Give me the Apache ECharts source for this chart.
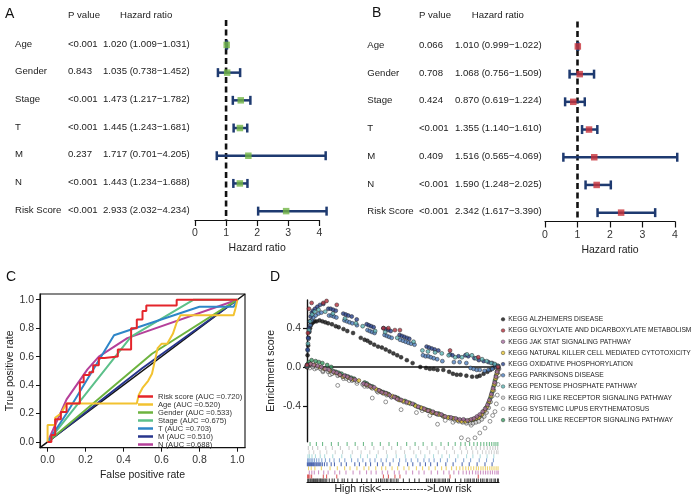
<!DOCTYPE html>
<html><head><meta charset="utf-8">
<script src="https://cdn.jsdelivr.net/npm/echarts@6/dist/echarts.min.js"></script>
<style>html,body{margin:0;padding:0;background:#fff}#c{width:693px;height:496px}</style>
</head><body><div id="c"></div>
<script>
// ---------- DATA ----------
const panelLetters = ['A','B','C','D'];
const tableHeaders = ['P value','Hazard ratio'];
const forestLabels = ['Age','Gender','Stage','T','M','N','Risk Score'];
const uniP  = ['<0.001','0.843','<0.001','<0.001','0.237','<0.001','<0.001'];
const uniHR = [1.020,1.035,1.473,1.445,1.717,1.443,2.933];
const uniLo = [1.009,0.738,1.217,1.243,0.701,1.234,2.032];
const uniHi = [1.031,1.452,1.782,1.681,4.205,1.688,4.234];
const multiP  = ['0.066','0.708','0.424','<0.001','0.409','<0.001','<0.001'];
const multiHR = [1.010,1.068,0.870,1.355,1.516,1.590,2.342];
const multiLo = [0.999,0.756,0.619,1.140,0.565,1.248,1.617];
const multiHi = [1.022,1.509,1.224,1.610,4.069,2.025,3.390];

const rocNames = ['Risk score (AUC =0.720)','Age (AUC =0.520)','Gender (AUC =0.533)','Stage (AUC =0.675)','T (AUC =0.703)','M (AUC =0.510)','N (AUC =0.688)'];
const rocTicks = [0,0.2,0.4,0.6,0.8,1.0];
const rocDiag = [[-0.04,-0.04],[1.04,1.04]];
const rocRisk = [[0,0],[0.02,0],[0.02,0.05],[0.04,0.05],[0.04,0.16],[0.07,0.16],[0.07,0.21],[0.1,0.21],[0.1,0.27],[0.17,0.27],[0.17,0.42],[0.19,0.42],[0.19,0.47],[0.22,0.47],[0.22,0.49],[0.24,0.49],[0.24,0.54],[0.27,0.54],[0.27,0.59],[0.3,0.59],[0.3,0.6],[0.37,0.6],[0.37,0.65],[0.44,0.65],[0.44,0.8],[0.47,0.8],[0.47,0.86],[0.5,0.86],[0.5,0.92],[0.52,0.92],[0.52,0.96],[0.68,0.96],[0.68,1.0],[1.0,1.0]];
const rocAge = [[0,0],[0,0.12],[0.04,0.12],[0.04,0.17],[0.07,0.2],[0.1,0.27],[0.47,0.27],[0.48,0.33],[0.5,0.38],[0.53,0.43],[0.55,0.48],[0.57,0.6],[0.58,0.66],[0.6,0.69],[0.63,0.69],[0.66,0.76],[0.68,0.84],[0.7,0.89],[0.98,0.89],[0.99,0.94],[1,1]];
const rocGender = [[0,0],[0.55,0.62],[1,1]];
const rocStage = [[0,0],[0.44,0.74],[0.77,1.0],[1,1]];
const rocT = [[0,0],[0.1,0.2],[0.35,0.75],[0.8,0.95],[0.98,0.95],[1,1]];
const rocM = [[0,0],[0.5,0.52],[1,1]];
const rocN = [[0,0],[0.1,0.3],[0.21,0.51],[0.27,0.6],[0.42,0.73],[1,1]];
const rocColors = ['#E4252B','#F2C230','#6DB33F','#5CC08A','#2E86C8','#27358C','#B5409A'];

const gseaNames = ['KEGG ALZHEIMERS DISEASE','KEGG GLYOXYLATE AND DICARBOXYLATE METABOLISM','KEGG JAK STAT SIGNALING PATHWAY','KEGG NATURAL KILLER CELL MEDIATED CYTOTOXICITY','KEGG OXIDATIVE PHOSPHORYLATION','KEGG PARKINSONS DISEASE','KEGG PENTOSE PHOSPHATE PATHWAY','KEGG RIG I LIKE RECEPTOR SIGNALING PATHWAY','KEGG SYSTEMIC LUPUS ERYTHEMATOSUS','KEGG TOLL LIKE RECEPTOR SIGNALING PATHWAY'];
const gseaColors = ['#111111','#B5303C','#A86BA0','#E6C431','#27408B','#4F7FBF','#5FB7B7','#D0D0D0','#FFFFFF','#3A9B62'];
const rugColors  = ['#111111','#D23A3A','#C27AB8','#E8C84A','#2A4AA0','#6E95CC','#9FD6D6','#C8C8C8','#BDBDBD','#4DAA6E'];
const esTicks = [-0.4,0,0.4];
const gseaAlz = [[0,0.01],[0.3,0.12],[0.6,0.22],[0.9,0.3],[1.2,0.36],[1.6,0.4],[2,0.43],[2.6,0.45],[3.2,0.46],[4,0.47],[5,0.47],[6.5,0.48],[8,0.47],[9.5,0.46],[11,0.45],[13,0.44],[15,0.42],[16.5,0.41],[19,0.39],[21,0.37],[24,0.35],[28,0.3],[30,0.28],[31.5,0.27],[33,0.25],[35,0.23],[37,0.21],[39,0.2],[41,0.18],[43,0.16],[45,0.14],[47,0.12],[49,0.1],[52,0.07],[55,0.04],[59,0.0],[62,-0.01],[64,-0.02],[66,-0.02],[68,-0.03],[71,-0.03],[74,-0.05],[76,-0.07],[78,-0.08],[80,-0.08],[83,-0.09],[86,-0.1],[88.5,-0.1],[90,-0.09],[92,-0.07],[94,-0.05],[95.5,-0.03],[97,-0.01],[98.8,0.01],[99.6,0.0]];
const gseaGly = [[0,0.02],[0.5,0.35],[1,0.6],[2.4,0.66],[8.5,0.66],[10.2,0.68],[15.5,0.64],[39.8,0.4],[42.4,0.4],[45.8,0.38],[48.4,0.38],[74.5,0.17],[89.2,0.1],[99.5,0.0]];
const gseaJak = [[0,0.0],[0.6,0.02],[1.8,0.03],[3.5,0.02],[5.5,0.01],[7.5,0.0],[9.5,-0.02],[11.5,-0.03],[13.8,-0.05],[15.5,-0.06],[17.2,-0.08],[19.5,-0.09],[21,-0.1],[22.8,-0.12],[25,-0.13],[29.5,-0.17],[31,-0.18],[33,-0.2],[35,-0.21],[37.5,-0.24],[39,-0.26],[41,-0.27],[43,-0.29],[45.5,-0.31],[47,-0.33],[49,-0.34],[52,-0.36],[55,-0.38],[58,-0.41],[61,-0.43],[63,-0.45],[65.5,-0.46],[67.5,-0.48],[70,-0.49],[72,-0.51],[75,-0.52],[77.5,-0.53],[79.5,-0.54],[81.5,-0.54],[83.5,-0.55],[85.5,-0.54],[87,-0.53],[88.5,-0.51],[90,-0.49],[91.5,-0.46],[92.8,-0.43],[94,-0.39],[95,-0.34],[96,-0.28],[96.9,-0.22],[97.7,-0.16],[98.4,-0.1],[99,-0.05],[99.6,-0.01]];
const gseaNk = [[0,0.0],[0.8,0.02],[2,0.03],[4,0.02],[6.5,0.0],[9,-0.02],[12,-0.04],[14.5,-0.06],[17,-0.08],[19,-0.1],[21.5,-0.11],[24,-0.13],[27,-0.14],[30.5,-0.18],[32,-0.19],[33.5,-0.21],[36,-0.23],[38,-0.25],[40,-0.27],[42,-0.28],[44.5,-0.3],[46.5,-0.32],[48,-0.34],[50,-0.35],[53,-0.37],[56.5,-0.4],[59.5,-0.42],[61.5,-0.44],[63.5,-0.45],[65,-0.47],[67,-0.48],[69,-0.49],[71.5,-0.51],[73.5,-0.52],[76.5,-0.53],[78.5,-0.55],[80.5,-0.56],[82.5,-0.56],[84.5,-0.55],[86.5,-0.54],[88,-0.53],[89.5,-0.52],[91,-0.49],[92.5,-0.45],[93.8,-0.41],[94.8,-0.36],[95.8,-0.3],[96.7,-0.24],[97.5,-0.18],[98.2,-0.12],[98.8,-0.07],[99.4,-0.03]];
const gseaOxi = [[0,0.02],[0.3,0.18],[0.6,0.3],[1,0.4],[1.4,0.47],[1.9,0.52],[2.5,0.56],[3.2,0.58],[4.2,0.6],[5.4,0.62],[6.8,0.64],[8.5,0.65],[11.1,0.6],[12.3,0.6],[13.6,0.59],[15,0.58],[18.9,0.55],[20.2,0.54],[21.5,0.53],[23.3,0.52],[25.9,0.49],[31.1,0.44],[32.2,0.43],[33.4,0.42],[34.7,0.41],[39.8,0.4],[41,0.39],[42.3,0.38],[43.6,0.37],[48.2,0.33],[49.4,0.32],[50.7,0.31],[52,0.3],[53.3,0.29],[62.3,0.21],[63.6,0.2],[65,0.19],[66.5,0.18],[68.4,0.17],[74.5,0.13],[75.8,0.12],[78.9,0.11],[82.5,0.12],[84,0.11],[87.2,0.09],[89.5,0.07],[92,0.06],[94.5,0.05],[96.5,0.04],[97.9,0.02],[99.3,0.01]];
const gseaPark = [[0,0.01],[0.4,0.17],[0.8,0.29],[1.2,0.37],[1.7,0.43],[2.4,0.48],[3.3,0.51],[4.5,0.53],[6,0.55],[7.5,0.56],[11.5,0.53],[12.8,0.53],[14,0.52],[15.3,0.51],[19.5,0.48],[20.8,0.47],[22.1,0.46],[23.6,0.45],[26,0.43],[31.5,0.38],[32.7,0.37],[33.9,0.36],[35.2,0.35],[40.4,0.33],[41.6,0.32],[42.8,0.31],[44.1,0.3],[48.5,0.28],[50,0.27],[51.4,0.26],[52.8,0.25],[54.2,0.24],[56,0.23],[60.4,0.12],[61.8,0.11],[63.2,0.11],[64.5,0.1],[66,0.09],[67.8,0.08],[70.5,0.06],[76.5,0.05],[79.5,0.05],[83,0.04],[85.2,-0.01],[86.8,-0.02],[88.4,-0.03],[90,-0.03],[92.5,-0.04],[94.5,-0.03],[96.5,-0.02],[98.5,0.0],[99.6,0.01]];
const gseaPent = [[0,0.01],[0.5,0.24],[1,0.38],[1.6,0.47],[2.6,0.54],[4,0.57],[6,0.59],[9.5,0.57],[13.5,0.55],[19.8,0.5],[25.5,0.45],[29,0.42],[35.5,0.37],[40.7,0.36],[47,0.3],[55.5,0.26],[60.1,0.17],[63,0.16],[66.7,0.15],[70.2,0.14],[73.8,0.12],[77.2,0.1],[80.7,0.1],[83.3,0.13],[85.9,0.12],[88.1,0.09],[91.2,0.08],[93.6,0.06],[95.9,0.04],[97.8,0.03],[99.5,0.01]];
const gseaRig = [[0,0.0],[1,0.01],[3,0.0],[5,-0.01],[7,-0.02],[8.3,-0.04],[11,-0.05],[13,-0.07],[16,-0.09],[18.5,-0.1],[20.5,-0.12],[23.5,-0.14],[26,-0.15],[29,-0.18],[31.5,-0.2],[34,-0.22],[36.5,-0.25],[39.5,-0.27],[41.5,-0.29],[44,-0.31],[47.5,-0.33],[50.5,-0.36],[54,-0.38],[57.5,-0.41],[60,-0.43],[62.8,-0.45],[65.5,-0.47],[68,-0.49],[71,-0.51],[74.5,-0.53],[77,-0.55],[79,-0.56],[81,-0.57],[83,-0.58],[85,-0.58],[86.5,-0.58],[88,-0.57],[89.5,-0.56],[91,-0.54],[92.3,-0.51],[93.5,-0.47],[94.6,-0.42],[95.6,-0.36],[96.5,-0.3],[97.3,-0.24],[98,-0.17],[98.6,-0.11],[99.2,-0.06],[99.7,-0.02]];
const gseaSle = [[0,0.0],[1.5,-0.01],[4,-0.02],[8.3,-0.05],[12,-0.08],[16,-0.19],[19,-0.12],[22,-0.14],[26,-0.17],[30,-0.2],[34,-0.32],[37,-0.26],[41,-0.36],[44,-0.31],[49,-0.44],[52,-0.37],[57,-0.47],[60,-0.45],[64,-0.5],[68,-0.59],[72,-0.55],[76,-0.57],[80.4,-0.73],[83.9,-0.75],[85.5,-0.6],[87.5,-0.73],[90,-0.68],[92.7,-0.63],[95.3,-0.56],[96.7,-0.5],[97.9,-0.46],[98.6,-0.38],[99.1,-0.29],[99.5,-0.18],[99.8,-0.085],[100,-0.02]];
const gseaToll = [[0,0.01],[0.4,0.03],[1,0.05],[2.4,0.07],[4.5,0.06],[6.2,0.05],[8,0.04],[10.5,0.02],[12.6,0.0],[13.5,-0.04],[15,-0.05],[16.5,-0.06],[18,-0.07],[20,-0.09],[21.5,-0.1],[23,-0.11],[24.5,-0.12],[30,-0.16],[31.2,-0.17],[32.5,-0.19],[34,-0.2],[37,-0.24],[38.4,-0.25],[39.8,-0.26],[41.2,-0.27],[42.5,-0.28],[46,-0.31],[47.3,-0.32],[48.6,-0.34],[51,-0.35],[53.5,-0.37],[56,-0.39],[59,-0.42],[60.5,-0.43],[62.2,-0.44],[64,-0.45],[66,-0.47],[68.5,-0.48],[70.5,-0.5],[74,-0.52],[76,-0.53],[78,-0.54],[80,-0.55],[82,-0.55],[84,-0.56],[86,-0.55],[87.5,-0.54],[89,-0.52],[90.5,-0.5],[92,-0.46],[93.3,-0.42],[94.5,-0.37],[95.5,-0.32],[96.4,-0.26],[97.2,-0.2],[97.9,-0.14],[98.5,-0.09],[99,-0.05],[99.5,-0.02]];

const hitsAlz = [0.4,0.9,1.6,2.1,2.7,3.3,3.8,4.5,5.1,5.6,6.3,6.9,7.4,8.2,8.8,9.5,10.3,11.6,13.1,14.2,16.1,18.3,19.4,21.2,23.5,26.1,28.4,31.2,33.5,36.1,37.2,38.3,39.1,40.2,41.3,42.1,43.4,44.2,45.3,46.5,47.4,50.2,53.3,56.1,58.4,62.2,63.1,64.3,65.2,66.4,67.1,68.3,69.2,70.4,71.3,72.1,73.4,74.2,77.3,80.1,82.2,83.4,84.3,85.2,86.4,87.1,88.3,89.2,90.4,91.3,92.2,93.4,94.1,95.3,96.2,97.4,98.1,99.2,99.7];
const hitsGly = [0.3,0.8,1.5,2.4,8.5,10.2,15.5,39.8,42.4,45.8,48.4,74.5,89.2];
const hitsJak = [1.2,2.5,3.8,6,8.7,11,14.5,17,20.3,24,27.5,31,33.4,36,39.2,42,45.5,48,51.6,55,58.3,61,64.7,68,71.2,74,76.5,79,81.3,83,84.6,86.2,87.9,89.1,90.4,91.8,93,94.2,95.5,96.6,97.8,98.9,99.6];
const hitsNk = [0.8,2.2,4.1,7.5,12,15.8,19.6,22.4,26,29.7,32.2,35.8,38.9,41,44.3,47.2,50.5,53.1,57,60.2,63.5,66.8,70.1,72.5,75.3,77.8,79.6,81.2,82.7,84.1,85.4,86.8,88.2,89.3,90.6,91.7,92.9,94,95.2,96.3,97.4,98.5,99.5];
const hitsOxi = [0.2,0.6,1,1.4,1.9,2.3,2.8,3.3,3.7,4.2,4.8,5.3,5.9,6.6,7.2,8,9.1,10.4,12.6,14.3,17.8,20.5,24.9,27.3,30.6,33.1,36.7,39.5,43.2,47.8,52.4,55.1,58.9,61.7,64.4,67.9,72.3,76.1,80.8,84.5,88.6,92.7,96.4];
const hitsPark = [0.3,0.9,1.5,2.2,3,3.9,5,6.2,7.7,9.6,11.8,14.1,16.9,19.7,23.2,26.5,29.1,32.8,35.4,38.6,41.3,44.9,48.2,51.5,54.3,57.7,60.9,63.6,66.2,69.5,73.1,77.4,81.6,85.2,89.7,93.5,97.1];
const hitsPent = [0.5,1.3,2.6,4.4,6.9,9.2,13.4,18.1,22.8,27.9,31.5,36.2,41.8,46.5,51.2,56.8,61.4,65.9,70.3,74.2,78.6,83.1,86.4,90.2,93.8,97.3];
const hitsRig = [1.1,3.5,6.8,10.3,14.7,18.5,23.6,28.2,32.7,37.1,41.4,46.3,50.8,55.6,59.2,63.9,68.4,72.7,76.8,80.5,83.6,86.3,88.9,91.4,93.2,94.8,96.1,97.5,98.7,99.5];
const hitsSle = [0.7,2.9,5.6,9.8,13.2,17.4,21.9,26.4,30.3,34.8,39.7,44.1,48.9,53.7,58.1,62.6,67.2,71.5,75.9,79.8,82.9,85.8,88.1,90.3,92.2,93.9,95.4,96.8,98.1,99.3];
const hitsToll = [1.6,4.9,8.1,12.7,16.3,20.9,25.1,29.4,33.9,38.2,42.7,47.1,51.9,56.3,60.5,65.1,69.8,73.6,77.2,80.1,82.4,84.7,86.9,88.7,90.5,92.1,93.6,95,96.2,97.4,98.4,99.4];
const esZero = [[0,0],[100,0]];
const dAxisName = 'High risk<------------->Low risk';

// ---------- CHART ----------
const FONT = '"Liberation Sans", Arial, Helvetica, sans-serif';
const NAVY = '#1E3A70';
const chart = echarts.init(document.getElementById('c'));

function fmt3(v){ return v.toFixed(3); }
function forestSeries(k, hr, lo, hi, pv, sqColor, offs){
  const ymin = -0.9, ymax = 6.32;
  return [
    {type:'line', xAxisIndex:k, yAxisIndex:k, z:1, symbol:'none', silent:true,
     data:[[1,ymin],[1,ymax]], lineStyle:{color:'#111', width:2.6, type:[6,3.5]}},
    {type:'custom', xAxisIndex:k, yAxisIndex:k, z:3, silent:true,
     data: lo.map((l,i)=>[l, hi[i], i]), encode:{x:[0,1], y:2},
     renderItem:(p,api)=>{
       const a = api.coord([api.value(0), api.value(2)]);
       const b = api.coord([api.value(1), api.value(2)]);
       const h = 4.5, st = {stroke:NAVY, lineWidth:2.5};
       return {type:'group', children:[
         {type:'line', shape:{x1:a[0],y1:a[1],x2:b[0],y2:b[1]}, style:st},
         {type:'line', shape:{x1:a[0],y1:a[1]-h,x2:a[0],y2:a[1]+h}, style:st},
         {type:'line', shape:{x1:b[0],y1:b[1]-h,x2:b[0],y2:b[1]+h}, style:st}
       ]};
     }},
    {type:'scatter', xAxisIndex:k, yAxisIndex:k, z:4, silent:true, symbol:'rect', symbolSize:6.5,
     data: hr.map((v,i)=>[v,i]), itemStyle:{color:sqColor}},
    {type:'custom', xAxisIndex:k, yAxisIndex:k, z:4, silent:true,
     data: forestLabels.map((l,i)=>[0,i]), encode:{x:0, y:1},
     renderItem:(p,api)=>{
       const i = api.value(1);
       const y = api.coord([0,i])[1] - 1;
       const gx = p.coordSys.x;
       const t = (dx,s)=>({type:'text', x:gx+dx, y:y, style:{text:s, fill:'#222', fontSize:9.6, fontFamily:FONT, verticalAlign:'middle', align:'left'}});
       return {type:'group', children:[
         t(offs[0], forestLabels[i]), t(offs[1], pv[i]),
         t(offs[2], fmt3(hr[i])+' ('+fmt3(lo[i])+'\u2212'+fmt3(hi[i])+')')
       ]};
     }}
  ];
}

function forestX(gi){
  return {gridIndex:gi, type:'value', min:0, max:4, interval:1,
    axisLine:{show:true, onZero:false, lineStyle:{color:'#111', width:1.2}},
    axisTick:{show:true, length:6, lineStyle:{color:'#111', width:1.2}},
    axisLabel:{fontSize:10.5, color:'#333', margin:8},
    splitLine:{show:false},
    name:tableHeaders[1], nameLocation:'middle', nameGap:23,
    nameTextStyle:{fontSize:10.5, color:'#222'}};
}

const rocData = [rocRisk, rocAge, rocGender, rocStage, rocT, rocM, rocN];
const rocSeries = [{type:'line', xAxisIndex:2, yAxisIndex:2, data:rocDiag, symbol:'none', silent:true,
   lineStyle:{color:'#111', width:1.5}, z:2}];
[5,6,2,3,4,1,0].forEach(j=>{
  rocSeries.push({type:'line', name:rocNames[j], xAxisIndex:2, yAxisIndex:2, data:rocData[j],
    symbol:'none', showSymbol:false, silent:true, color:rocColors[j],
    lineStyle:{color:rocColors[j], width:2}, z:3});
});

const gseaData = [gseaAlz, gseaGly, gseaJak, gseaNk, gseaOxi, gseaPark, gseaPent, gseaRig, gseaSle, gseaToll];
const hitsData = [hitsAlz, hitsGly, hitsJak, hitsNk, hitsOxi, hitsPark, hitsPent, hitsRig, hitsSle, hitsToll];
const dSeries = [{type:'line', xAxisIndex:3, yAxisIndex:3, data:esZero, symbol:'none', silent:true,
  lineStyle:{color:'#111', width:1.4}, z:1}];
[9,8,7,3,2,0,5,4,6,1].forEach(j=>{
  dSeries.push({type:'scatter', name:gseaNames[j], xAxisIndex:3, yAxisIndex:3, data:gseaData[j],
    symbol:'circle', symbolSize:3.9, silent:true,
    itemStyle:{color:gseaColors[j], borderColor:'#222', borderWidth:0.6}, z:3});
});
gseaNames.forEach((n,j)=>{
  dSeries.push({type:'scatter', name:n+' hits', xAxisIndex:4, yAxisIndex:4,
    data:hitsData[j].map(v=>[v, j]), symbol:'rect', symbolSize:[1.1,4], silent:true,
    itemStyle:{color:rugColors[j]}, z:2});
});

const option = {
  animation:false,
  textStyle:{fontFamily:FONT},
  grid:[
    {left:195, top:20, width:124.3, height:200},
    {left:545, top:21.5, width:130, height:200},
    {left:40, top:294, width:205, height:153.7, show:true, borderColor:'#111', borderWidth:1.1},
    {left:307, top:300, width:192, height:141.7},
    {left:307, top:442, width:192, height:41.5}
  ],
  xAxis:[
    forestX(0), forestX(1),
    {gridIndex:2, type:'value', min:-0.04, max:1.04,
     axisLine:{show:true, onZero:false, lineStyle:{color:'#111', width:1.1}},
     axisTick:{show:true, customValues:rocTicks, length:4, lineStyle:{color:'#111'}},
     axisLabel:{customValues:rocTicks, formatter:v=>v.toFixed(1), fontSize:10.5, color:'#333', margin:7},
     splitLine:{show:false},
     name:'False positive rate', nameLocation:'middle', nameGap:22, nameTextStyle:{fontSize:10.5, color:'#222'}},
    {gridIndex:3, type:'value', min:0, max:100, show:false},
    {gridIndex:4, type:'value', min:0, max:100,
     axisLine:{show:true, onZero:false, lineStyle:{color:'#111', width:1.2}},
     axisTick:{show:false}, axisLabel:{show:false}, splitLine:{show:false},
     name:dAxisName, nameLocation:'middle', nameGap:1.5, nameTextStyle:{fontSize:10.5, color:'#222'}}
  ],
  yAxis:[
    {gridIndex:0, type:'value', inverse:true, min:-0.9, max:6.32, show:false},
    {gridIndex:1, type:'value', inverse:true, min:-0.9, max:6.32, show:false},
    {gridIndex:2, type:'value', min:-0.04, max:1.04,
     axisLine:{show:true, onZero:false, lineStyle:{color:'#111', width:1.1}},
     axisTick:{show:true, customValues:rocTicks, length:4, lineStyle:{color:'#111'}},
     axisLabel:{customValues:rocTicks, formatter:v=>v.toFixed(1), fontSize:10.5, color:'#333', margin:6},
     splitLine:{show:false},
     name:'True positive rate', nameLocation:'middle', nameGap:23, nameRotate:90, nameTextStyle:{fontSize:10.5, color:'#222'}},
    {gridIndex:3, type:'value', min:-0.77, max:0.69,
     axisLine:{show:true, onZero:false, lineStyle:{color:'#111', width:1.4}},
     axisTick:{show:true, customValues:esTicks, length:4, lineStyle:{color:'#111', width:1.2}},
     axisLabel:{customValues:esTicks, formatter:v=>v.toFixed(1), fontSize:10.5, color:'#333', margin:6},
     splitLine:{show:false},
     name:'Enrichment score', nameLocation:'middle', nameGap:30, nameRotate:90, nameTextStyle:{fontSize:10.5, color:'#222'}},
    {gridIndex:4, type:'category', data:gseaNames.map((n,j)=>j), show:false}
  ],
  legend:[
    {data:rocNames, orient:'vertical', left:138, top:392.5, itemWidth:15, itemHeight:2.5, itemGap:0,
     icon:'rect', padding:0, selectedMode:false,
     textStyle:{fontSize:7.6, lineHeight:7.3, color:'#333'}},
    {data:gseaNames, orient:'vertical', left:501, top:313.7, itemWidth:3.6, itemHeight:3.6, itemGap:0,
     icon:'circle', padding:0, selectedMode:false,
     itemStyle:{borderWidth:0.5, borderColor:'#222'},
     textStyle:{fontSize:6.7, lineHeight:11.2, color:'#222', padding:[0,0,0,-1.5]}}
  ],
  graphic:[
    {type:'text', x:5, y:14, style:{text:panelLetters[0], fontSize:14, fontFamily:FONT, fill:'#111', verticalAlign:'middle'}},
    {type:'text', x:372, y:13, style:{text:panelLetters[1], fontSize:14, fontFamily:FONT, fill:'#111', verticalAlign:'middle'}},
    {type:'text', x:6, y:277, style:{text:panelLetters[2], fontSize:14, fontFamily:FONT, fill:'#111', verticalAlign:'middle'}},
    {type:'text', x:270, y:277, style:{text:panelLetters[3], fontSize:14, fontFamily:FONT, fill:'#111', verticalAlign:'middle'}},
    {type:'text', x:68, y:15.7, style:{text:tableHeaders[0], fontSize:9.6, fontFamily:FONT, fill:'#222', verticalAlign:'middle'}},
    {type:'text', x:120, y:15.7, style:{text:tableHeaders[1], fontSize:9.6, fontFamily:FONT, fill:'#222', verticalAlign:'middle'}},
    {type:'text', x:419, y:15.7, style:{text:tableHeaders[0], fontSize:9.6, fontFamily:FONT, fill:'#222', verticalAlign:'middle'}},
    {type:'text', x:471.7, y:15.7, style:{text:tableHeaders[1], fontSize:9.6, fontFamily:FONT, fill:'#222', verticalAlign:'middle'}}
  ],
  series:[].concat(
    forestSeries(0, uniHR, uniLo, uniHi, uniP, '#72B545', [-180,-127,-92]),
    forestSeries(1, multiHR, multiLo, multiHi, multiP, '#C8323A', [-177.7,-126,-90]),
    rocSeries, dSeries)
};
chart.setOption(option);
</script></body></html>
